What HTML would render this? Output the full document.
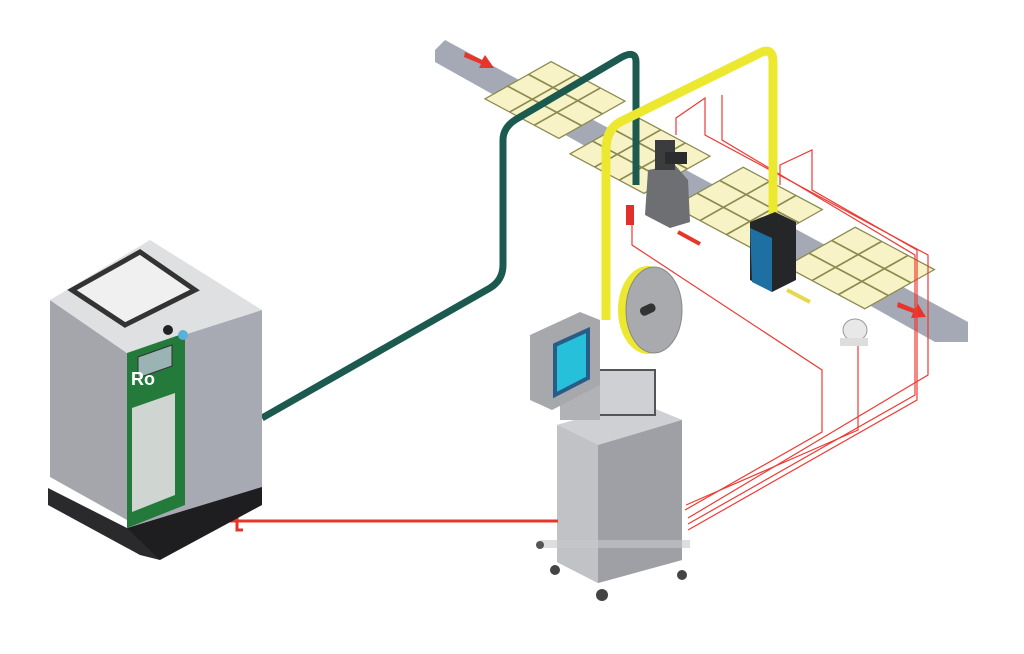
<!DOCTYPE html>
<html><head><meta charset="utf-8"><style>html,body{margin:0;padding:0;background:#fff}svg{display:block}</style></head>
<body>
<svg width="1024" height="654" viewBox="0 0 1024 654" xmlns="http://www.w3.org/2000/svg">
<!-- conveyor -->
<polygon points="445,40 968,322 968,342 935,342 435,62 435,50" fill="#a5a9b5"/>
<!-- boxes -->
<g fill="#f7f3c6" stroke="#8a8a50" stroke-width="2.2">
<g transform="matrix(0.88,0.47,0.87,-0.49,555,100)"><rect x="-42" y="-38" width="84" height="76" stroke-width="1.5"/><line x1="-14" y1="-38" x2="-14" y2="38" stroke-width="2"/><line x1="14" y1="-38" x2="14" y2="38" stroke-width="2"/><line x1="-42" y1="-12" x2="42" y2="-12" stroke-width="2"/><line x1="-42" y1="12" x2="42" y2="12" stroke-width="2"/></g>
<g transform="matrix(0.88,0.47,0.87,-0.49,640,155)"><rect x="-42" y="-38" width="84" height="76" stroke-width="1.5"/><line x1="-14" y1="-38" x2="-14" y2="38" stroke-width="2"/><line x1="14" y1="-38" x2="14" y2="38" stroke-width="2"/><line x1="-42" y1="-12" x2="42" y2="-12" stroke-width="2"/><line x1="-42" y1="12" x2="42" y2="12" stroke-width="2"/></g>
<g transform="matrix(0.88,0.47,0.87,-0.49,748,208)"><rect x="-45" y="-40" width="90" height="80" stroke-width="1.5"/><line x1="-15" y1="-40" x2="-15" y2="40" stroke-width="2"/><line x1="15" y1="-40" x2="15" y2="40" stroke-width="2"/><line x1="-45" y1="-13" x2="45" y2="-13" stroke-width="2"/><line x1="-45" y1="13" x2="45" y2="13" stroke-width="2"/></g>
<g transform="matrix(0.88,0.47,0.87,-0.49,860,268)"><rect x="-45" y="-40" width="90" height="80" stroke-width="1.5"/><line x1="-15" y1="-40" x2="-15" y2="40" stroke-width="2"/><line x1="15" y1="-40" x2="15" y2="40" stroke-width="2"/><line x1="-45" y1="-13" x2="45" y2="-13" stroke-width="2"/><line x1="-45" y1="13" x2="45" y2="13" stroke-width="2"/></g>
</g>
<!-- arrows on conveyor -->
<polygon points="465,52 482,60 485,55 494,68 479,68 481,64 464,57" fill="#e8352a"/>
<polygon points="898,302 915,309 918,304 926,317 911,318 913,313 897,307" fill="#e8352a"/>
<!-- strips -->
<line x1="678" y1="232" x2="700" y2="244" stroke="#e8352a" stroke-width="4"/>
<line x1="787" y1="290" x2="810" y2="302" stroke="#e6d84a" stroke-width="4"/>
<!-- thin red lines -->
<g fill="none" stroke="#ee3a33" stroke-width="1.2">
<polyline points="632,222 632,245 822,370 822,432 685,510"/>
<polyline points="676,135 676,118 705,98 705,135 928,255 928,375 688,518"/>
<polyline points="722,95 722,140 915,255 915,395 688,524"/>
<polyline points="780,185 780,165 812,150 812,190 917,250 917,400 688,530"/>
<polyline points="858,335 858,430 686,505"/>
</g>
<!-- green pipe -->
<path d="M262,418 L490,288 Q503,280 503,265 L503,140 Q503,128 515,120 L622,57 Q636,50 636,62 L636,185" fill="none" stroke="#1c5a50" stroke-width="7"/>
<!-- applicator -->
<polygon points="648,170 675,165 688,180 690,222 670,228 645,215" fill="#6e6f73"/>
<rect x="655" y="140" width="20" height="30" fill="#3a3c3e"/>
<rect x="665" y="152" width="22" height="12" fill="#2a2c2e"/>
<rect x="626" y="205" width="8" height="20" fill="#e03028"/>
<!-- yellow -->
<path d="M606,320 L606,150 Q606,130 620,122 L762,52 Q773,48 773,62 L773,220" fill="none" stroke="#ece830" stroke-width="9"/>
<!-- camera -->
<polygon points="750,222 775,212 796,222 796,280 772,292 750,280" fill="#242628"/>
<polygon points="750,228 772,238 772,292 752,282" fill="#1e6fa2"/>
<!-- motor -->
<ellipse cx="855" cy="330" rx="12" ry="11" fill="#e8e8e8" stroke="#999"/>
<rect x="840" y="338" width="28" height="8" fill="#ddd"/>
<!-- labeler cabinet -->
<polygon points="557,425 638,402 682,420 682,560 598,583 557,562" fill="#a9abb0"/>
<polygon points="598,445 682,420 682,560 598,583" fill="#9ea0a5"/>
<polygon points="557,425 598,445 598,583 557,562" fill="#c0c2c6"/>
<polygon points="557,425 638,402 682,420 598,445" fill="#cfd0d3"/>
<rect x="540" y="540" width="150" height="8" fill="#c8c8cc" opacity=".6"/>
<circle cx="555" cy="570" r="5" fill="#444"/><circle cx="602" cy="595" r="6" fill="#444"/><circle cx="682" cy="575" r="5" fill="#444"/><circle cx="540" cy="545" r="4" fill="#555"/>
<!-- upper frame -->
<rect x="595" y="370" width="60" height="45" fill="#cfd0d4" stroke="#555" stroke-width="2"/>
<rect x="560" y="380" width="40" height="40" fill="#b0b2b6"/>
<!-- screen box -->
<polygon points="530,335 580,312 600,320 600,385 552,410 530,400" fill="#a6a8ac"/>
<polygon points="555,345 588,330 588,378 555,395" fill="#27c0da" stroke="#2a5c88" stroke-width="4"/>
<!-- reel -->
<ellipse cx="648" cy="310" rx="30" ry="44" fill="#ece830"/>
<ellipse cx="654" cy="310" rx="28" ry="43" fill="#a8aaad" stroke="#888"/>
<rect x="640" y="305" width="16" height="9" rx="4" fill="#333" transform="rotate(-25 648 310)"/>
<!-- red thick connection -->
<line x1="198" y1="521" x2="558" y2="521" stroke="#e8352a" stroke-width="3"/>
<path d="M243,513 L237,513 L237,530 L243,530" fill="none" stroke="#e8352a" stroke-width="3"/>
<!-- Ro machine -->
<polygon points="48,488 127,528 160,545 160,560 140,555 48,505" fill="#2a2a2c"/>
<polygon points="127,528 262,485 262,505 160,560" fill="#1e1e20"/>
<polygon points="50,300 127,353 127,520 50,477" fill="#a4a6ab"/>
<polygon points="127,353 262,310 262,487 127,528" fill="#a7a9b3"/>
<polygon points="50,300 150,240 262,310 127,353" fill="#dfe0e2"/>
<polygon points="72,290 140,252 195,290 125,325" fill="#f0f0f0" stroke="#333" stroke-width="5"/>
<polygon points="127,353 185,333 185,505 127,528" fill="#237a3a"/>
<polygon points="138,357 172,345 172,366 138,378" fill="#9ab3b3" stroke="#333"/>
<polygon points="132,408 175,393 175,495 132,512" fill="#cfd5d0"/>
<text x="131" y="385" font-family="Liberation Sans, sans-serif" font-weight="bold" font-size="18" fill="#fff">Ro</text>
<circle cx="168" cy="330" r="5" fill="#222"/><circle cx="183" cy="335" r="5" fill="#5ab0d8"/>
</svg>
</body></html>
